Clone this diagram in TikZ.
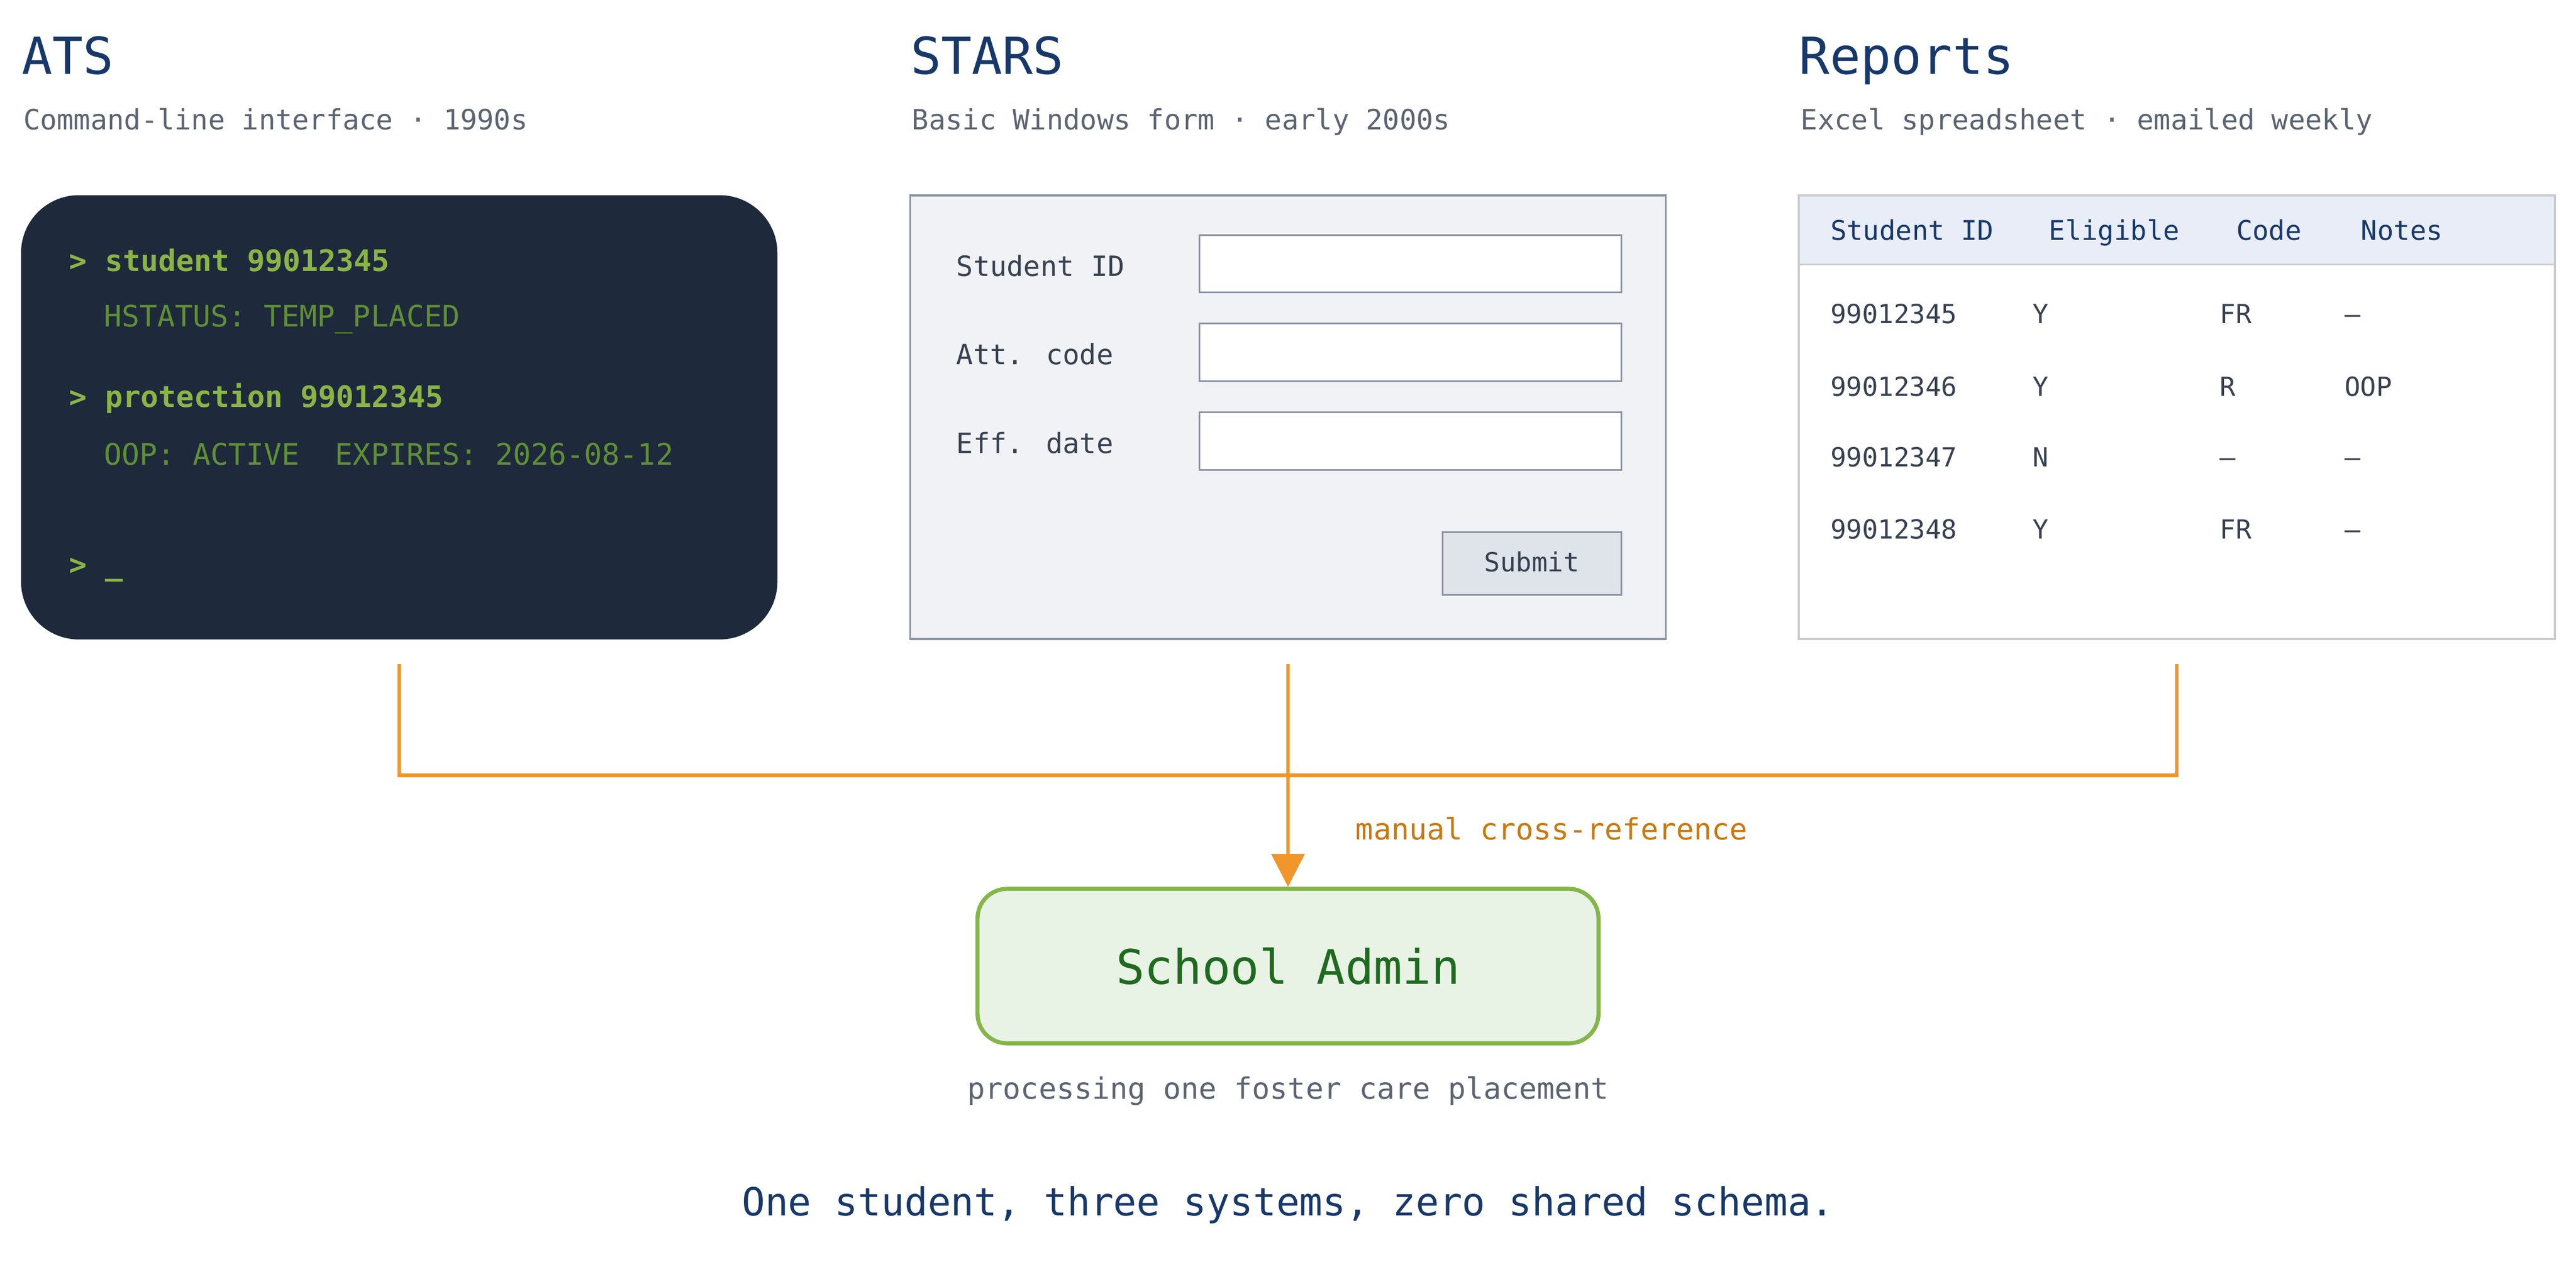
\documentclass[tikz,border=0pt]{standalone}
\usepackage{fontspec}
\setmainfont{DejaVu Sans Mono}
\setmonofont{DejaVu Sans Mono}
\usetikzlibrary{arrows.meta}
\definecolor{navy}{HTML}{17386A}
\definecolor{sub}{HTML}{5B6472}
\definecolor{term}{HTML}{1E293B}
\definecolor{cmd}{HTML}{8AB446}
\definecolor{outp}{HTML}{5F8F35}
\definecolor{formbg}{HTML}{F0F2F5}
\definecolor{formln}{HTML}{8A93A6}
\definecolor{btnbg}{HTML}{DFE3EA}
\definecolor{tblln}{HTML}{CCCCCC}
\definecolor{tblhd}{HTML}{E8EDF7}
\definecolor{cell}{HTML}{374151}
\definecolor{orng}{HTML}{F0962A}
\definecolor{orngd}{HTML}{C9780F}
\definecolor{admbg}{HTML}{E8F3E6}
\definecolor{admln}{HTML}{84B64A}
\definecolor{admtx}{HTML}{1E6B1E}
\begin{document}
\begin{tikzpicture}[x=1pt,y=-1pt,
  txt/.style={anchor=base west,inner sep=0pt},
  title/.style={txt,font=\fontsize{31}{31}\selectfont,text=navy},
  subt/.style={txt,font=\fontsize{17}{17}\selectfont,text=sub},
  cmdl/.style={txt,font=\fontsize{18}{18}\selectfont\bfseries,text=cmd},
  outl/.style={txt,font=\fontsize{18}{18}\selectfont,text=outp},
  flab/.style={txt,font=\fontsize{17}{17}\selectfont,text=cell},
  inp/.style={draw=formln,fill=white,line width=1pt},
  th/.style={txt,font=\fontsize{16.5}{16.5}\selectfont,text=navy},
  td/.style={txt,font=\fontsize{16}{16}\selectfont,text=cell},
  conn/.style={draw=orng,line width=2.2pt}]
\useasboundingbox (0,0) rectangle (1568,768);
\fill[white] (0,0) rectangle (1568,768);
% titles
\node[title] (t1) at (13,45) {ATS};
\node[subt] (s1) at (14,79) {Command-line interface · 1990s};
\node[title] (t2) at (554,45) {STARS};
\node[subt] (s2) at (555,79) {Basic Windows form · early 2000s};
\node[title] (t3) at (1095,45) {Reports};
\node[subt] (s3) at (1096,79) {Excel spreadsheet · emailed weekly};
% terminal
\draw[fill=term,draw=term,rounded corners=35pt] (13,119) rectangle (473,389);
\node[cmdl] (c1) at (42,165) {> student 99012345};
\node[outl] (o1) at (63,199) {HSTATUS: TEMP\_PLACED};
\node[cmdl] (c2) at (42,248) {> protection 99012345};
\node[outl] (o2) at (63,283) {OOP: ACTIVE\ \ EXPIRES: 2026-08-12};
\node[cmdl] (c3) at (42,350) {> \_};
% form
\draw[fill=formbg,draw=formln,line width=1.2pt] (554,119) rectangle (1014,389);
\node[flab] (l1) at (582,168) {Student ID};
\node[flab] (l2) at (582,222) {Att. code};
\node[flab] (l3) at (582,276) {Eff. date};
\draw[inp] (730,143) rectangle (987,178);
\draw[inp] (730,197) rectangle (987,232);
\draw[inp] (730,251) rectangle (987,286);
\draw[fill=btnbg,draw=formln,line width=1pt] (878,324) rectangle (987,362);
\node[anchor=base,inner sep=0pt,font=\fontsize{16}{16}\selectfont,text=cell] (sub) at (932.5,348) {Submit};
% table
\draw[fill=tblhd,draw=none] (1095,119) rectangle (1555,161);
\draw[tblln,line width=1.3pt] (1095,161) -- (1555,161);
\draw[tblln,line width=1.3pt] (1095,119) rectangle (1555,389);
\node[th] (h1) at (1114,146) {Student ID};
\node[th] (h2) at (1247,146) {Eligible};
\node[th] (h3) at (1361,146) {Code};
\node[th] (h4) at (1437,146) {Notes};
\foreach \y/\a/\b/\c/\d [count=\i] in {197/99012345/Y/FR/–,241/99012346/Y/R/OOP,284/99012347/N/–/–,328/99012348/Y/FR/–}{
  \node[td] (r\i a) at (1114,\y) {\a};
  \node[td] (r\i b) at (1237,\y) {\b};
  \node[td] (r\i c) at (1351,\y) {\c};
  \node[td] (r\i d) at (1427,\y) {\d};
}
% admin
\node[draw=admln,fill=admbg,line width=2.5pt,rounded corners=18pt,minimum width=378pt,minimum height=94pt,font=\fontsize{29}{29}\selectfont,text=admtx] (adm) at (784,588) {School Admin};
\node[anchor=base,inner sep=0pt,font=\fontsize{18}{18}\selectfont,text=sub] (proc) at (784,669) {processing one foster care placement};
\node[anchor=base,inner sep=0pt,font=\fontsize{23.5}{23.5}\selectfont,text=navy] (tag) at (784,740) {One student, three systems, zero shared schema.};
% connectors
\coordinate (aA) at (243,404);
\coordinate (aS) at (784,404);
\coordinate (aR) at (1325,404);
\draw[conn] (aA) |- (aR |- 0,472) -- (aR);
\draw[conn,-{Triangle[length=20pt,width=20pt]}] (aS) -- (adm.north);
\node[txt,font=\fontsize{18}{18}\selectfont,text=orngd] (mx) at (825,511) {manual cross-reference};
\end{tikzpicture}
\end{document}
